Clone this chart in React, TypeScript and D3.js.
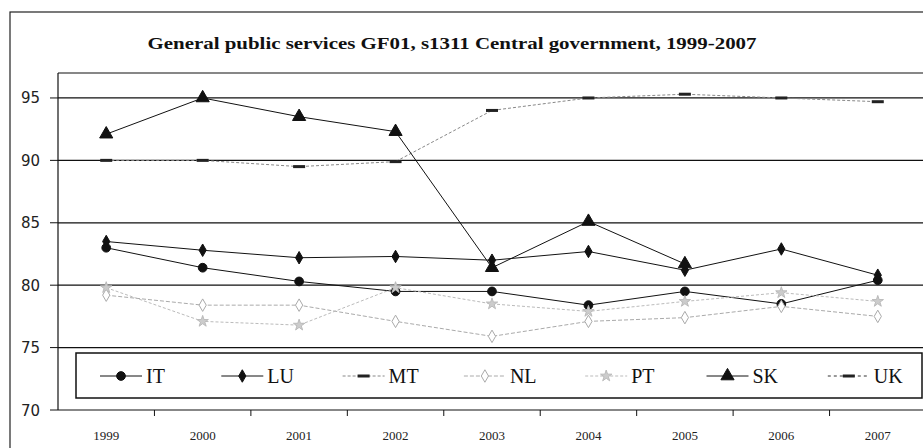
import React from "react";
import * as d3 from "d3";

const years = ["1999", "2000", "2001", "2002", "2003", "2004", "2005", "2006", "2007"];
const yTicks = [70, 75, 80, 85, 90, 95];

const IT = [83.0, 81.4, 80.3, 79.5, 79.5, 78.4, 79.5, 78.5, 80.4];
const LU = [83.5, 82.8, 82.2, 82.3, 82.0, 82.7, 81.2, 82.9, 80.8];
const MT = [90.0, 90.0, 89.5, 89.9, 94.0, 95.0, 95.3, 95.0, 94.7];
const NL = [79.2, 78.4, 78.4, 77.1, 75.9, 77.1, 77.4, 78.3, 77.5];
const PT = [79.8, 77.1, 76.8, 79.8, 78.5, 77.9, 78.7, 79.4, 78.7];
const SK = [92.1, 95.0, 93.5, 92.3, 81.4, 85.1, 81.7, null, null];
const UK: (number | null)[] = [null, null, null, null, null, null, null, null, null];

const seriesNames = ["IT", "LU", "MT", "NL", "PT", "SK", "UK"];
const seriesValues = [IT, LU, MT, NL, PT, SK, UK];

type Style = { stroke: string; dash?: string; width: number; marker: string; fill: string; mstroke: string };
const styles: Record<string, Style> = {
  IT: { stroke: "#111", width: 1, marker: "circle", fill: "#111", mstroke: "#111" },
  LU: { stroke: "#111", width: 1, marker: "diamond", fill: "#111", mstroke: "#111" },
  MT: { stroke: "#888", dash: "3,2", width: 1, marker: "dash", fill: "#222", mstroke: "#222" },
  NL: { stroke: "#aaa", dash: "4,2", width: 1, marker: "odiamond", fill: "#fff", mstroke: "#aaa" },
  PT: { stroke: "#bbb", dash: "3,2", width: 1, marker: "star", fill: "#ccc", mstroke: "#bbb" },
  SK: { stroke: "#111", width: 1, marker: "triangle", fill: "#111", mstroke: "#111" },
  UK: { stroke: "#333", dash: "3,3", width: 1, marker: "dash", fill: "#222", mstroke: "#222" },
};

const SERIF = "Liberation Serif";
const W = 923, H = 448;
const plot = { left: 58, right: 926, top: 73, bottom: 410 };

function Marker({ kind, x, y, st }: { kind: string; x: number; y: number; st: Style }) {
  if (kind === "dash") {
    return <rect x={x - 6} y={y - 1.5} width={12} height={3} fill={st.fill} />;
  }
  let sym: d3.SymbolType = d3.symbolCircle;
  let size = 60;
  if (kind === "circle") { sym = d3.symbolCircle; size = 60; }
  if (kind === "diamond" || kind === "odiamond") { sym = d3.symbolDiamond; size = 45; }
  if (kind === "triangle") { sym = d3.symbolTriangle; size = 75; }
  if (kind === "star") { sym = d3.symbolStar; size = 40; }
  const p = d3.symbol().type(sym).size(size)() || "";
  return (
    <path
      d={p}
      transform={`translate(${x},${y})`}
      fill={st.fill}
      stroke={st.mstroke}
      strokeWidth={1}
    />
  );
}

export default function App() {
  const x = d3.scaleBand<string>().domain(years).range([plot.left, plot.right]).padding(0);
  const y = d3.scaleLinear().domain([70, 97]).range([plot.bottom, plot.top]);
  const cx = (yr: string) => (x(yr) as number) + x.bandwidth() / 2;

  const line = d3
    .line<number | null>()
    .defined((d) => d !== null)
    .x((_, i) => cx(years[i]))
    .y((d) => y(d as number));

  const legendX0 = 100;
  const legendStep = 121.3;
  const legendY = 376;

  return (
    <div style={{ position: "absolute", left: 0, top: 0 }}>
      <svg width={W} height={H} style={{ display: "block", background: "#fff" }}>
        <rect x={10} y={12} width={930} height={460} fill="none" stroke="#222" strokeWidth={1.2} />
        <text
          x={452}
          y={49}
          textAnchor="middle"
          style={{ fontFamily: SERIF }}
          fontWeight="bold"
          fontSize={16}
          textLength={609}
          lengthAdjust="spacingAndGlyphs"
          fill="#111"
        >
          General public services GF01, s1311 Central government, 1999-2007
        </text>

        {yTicks.filter((t) => t > 70).map((t) => (
          <line key={t} x1={plot.left} x2={plot.right} y1={y(t)} y2={y(t)} stroke="#111" strokeWidth={1.2} />
        ))}
        <line x1={plot.left} x2={plot.right} y1={plot.top} y2={plot.top} stroke="#111" strokeWidth={1.2} />
        <line x1={plot.left} x2={plot.left} y1={plot.top} y2={plot.bottom} stroke="#111" strokeWidth={1.2} />
        <line x1={plot.left} x2={plot.right} y1={plot.bottom} y2={plot.bottom} stroke="#111" strokeWidth={1.2} />
        {yTicks.map((t) => (
          <g key={t}>
            <line x1={plot.left - 8} x2={plot.left} y1={y(t)} y2={y(t)} stroke="#111" />
            <text
              x={40}
              y={y(t) + 5.5}
              textAnchor="end"
              style={{ fontFamily: "DejaVu Sans" }}
              fontSize={15}
              fill="#222"
            >
              {t}
            </text>
          </g>
        ))}
        {years.map((yr, i) => (
          <g key={yr}>
            {i > 0 && (
              <line x1={x(yr) as number} x2={x(yr) as number} y1={plot.bottom} y2={plot.bottom + 6} stroke="#111" />
            )}
            <text
              x={cx(yr)}
              y={440}
              textAnchor="middle"
              style={{ fontFamily: SERIF }}
              fontSize={13}
              fill="#222"
            >
              {yr}
            </text>
          </g>
        ))}

        {seriesNames.map((name, si) => {
          const st = styles[name];
          const vals = seriesValues[si];
          return (
            <g key={name}>
              <path
                d={line(vals) || ""}
                fill="none"
                stroke={st.stroke}
                strokeWidth={st.width}
                strokeDasharray={st.dash}
              />
              {vals.map((v, i) =>
                v === null ? null : <Marker key={i} kind={st.marker} x={cx(years[i])} y={y(v)} st={st} />
              )}
            </g>
          );
        })}

        <rect x={76} y={353} width={846} height={45} fill="#fff" stroke="#111" strokeWidth={1.5} />
        {seriesNames.map((name, i) => {
          const st = styles[name];
          const lx = legendX0 + i * legendStep;
          return (
            <g key={name}>
              <line
                x1={lx}
                x2={lx + 42}
                y1={legendY}
                y2={legendY}
                stroke={st.stroke}
                strokeWidth={st.width}
                strokeDasharray={st.dash}
              />
              <Marker kind={st.marker} x={lx + 21} y={legendY} st={st} />
              <text
                x={lx + 46}
                y={legendY + 7}
                style={{ fontFamily: SERIF }}
                fontSize={20}
                fill="#111"
              >
                {name}
              </text>
            </g>
          );
        })}
      </svg>
    </div>
  );
}
